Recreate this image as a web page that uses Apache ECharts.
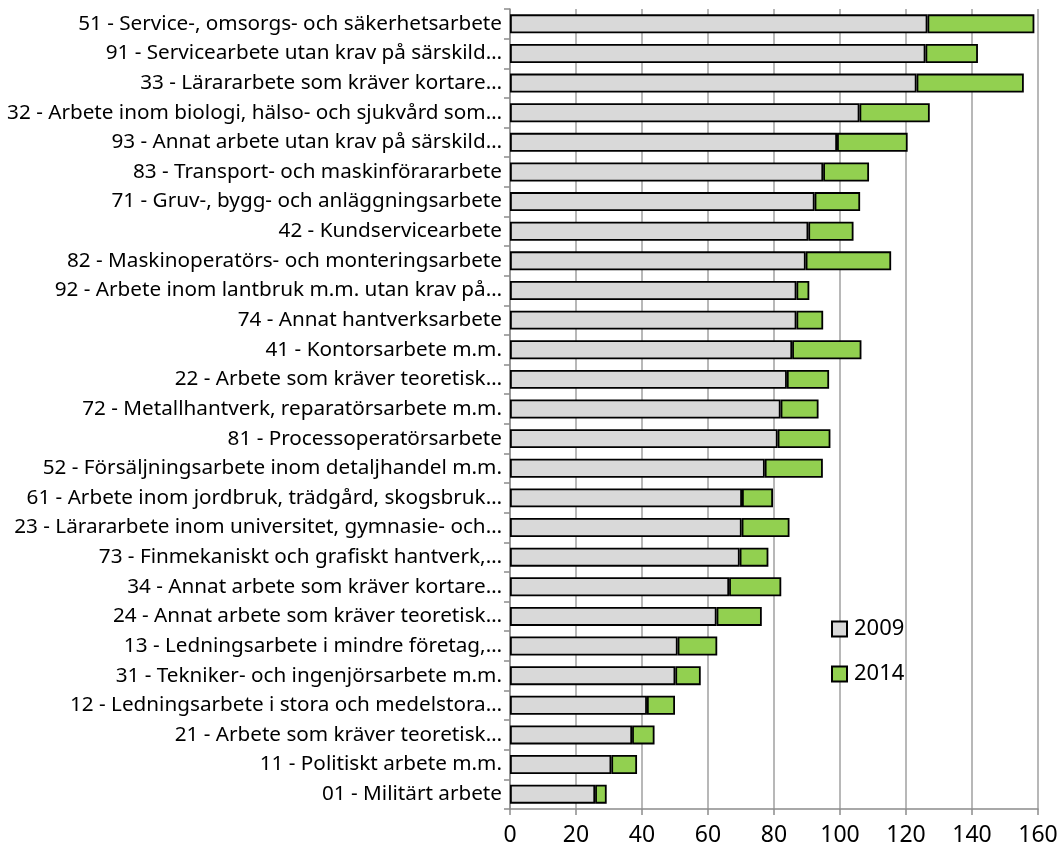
<!DOCTYPE html>
<html><head><meta charset="utf-8">
<script src="https://cdn.jsdelivr.net/npm/echarts@6/dist/echarts.min.js"></script>
<style>html,body{margin:0;padding:0;background:#fff}#c{width:1064px;height:854px}</style>
</head><body><div id="c"></div>
<script>
const categories = [
"51 - Service-, omsorgs- och säkerhetsarbete",
"91 - Servicearbete utan krav på särskild…",
"33 - Lärararbete som kräver kortare…",
"32 - Arbete inom biologi, hälso- och sjukvård som…",
"93 - Annat arbete utan krav på särskild…",
"83 - Transport- och maskinförararbete",
"71 - Gruv-, bygg- och anläggningsarbete",
"42 - Kundservicearbete",
"82 - Maskinoperatörs- och monteringsarbete",
"92 - Arbete inom lantbruk m.m. utan krav på…",
"74 - Annat hantverksarbete",
"41 - Kontorsarbete m.m.",
"22 - Arbete som kräver teoretisk…",
"72 - Metallhantverk, reparatörsarbete m.m.",
"81 - Processoperatörsarbete",
"52 - Försäljningsarbete inom detaljhandel m.m.",
"61 - Arbete inom jordbruk, trädgård, skogsbruk…",
"23 - Lärararbete inom universitet, gymnasie- och…",
"73 - Finmekaniskt och grafiskt hantverk,…",
"34 - Annat arbete som kräver kortare…",
"24 - Annat arbete som kräver teoretisk…",
"13 - Ledningsarbete i mindre företag,…",
"31 - Tekniker- och ingenjörsarbete m.m.",
"12 - Ledningsarbete i stora och medelstora…",
"21 - Arbete som kräver teoretisk…",
"11 - Politiskt arbete m.m.",
"01 - Militärt arbete"
];
const values2009 = [126.5,125.9,123.2,105.9,99.1,94.9,92.3,90.4,89.6,86.8,86.8,85.5,83.9,82.0,81.1,77.2,70.3,70.2,69.6,66.4,62.6,50.8,50.1,41.5,37.0,30.7,25.8];
const values2014 = [32.4,15.9,32.5,21.3,21.4,13.9,13.8,13.7,25.9,3.9,8.1,21.0,12.8,11.5,16.0,17.6,9.4,14.5,8.7,15.8,13.7,12.0,7.7,8.5,6.8,7.8,3.5];
const xTicks = [0,20,40,60,80,100,120,140,160];

const FONT = "Noto Sans";
const chart = echarts.init(document.getElementById('c'), null, {renderer:'canvas'});
chart.setOption({
  animation:false,
  textStyle:{fontFamily:FONT},
  grid:{left:510, right:26, top:9, bottom:45, containLabel:false, outerBoundsMode:'none'},
  legend:{
    orient:'vertical', left:826, top:613, itemGap:23, itemWidth:15, itemHeight:15,
    icon:'rect',
    textStyle:{fontSize:22, color:'#000', fontFamily:FONT, padding:[0,0,0,2]},
    data:['2009','2014']
  },
  xAxis:{
    type:'value', min:xTicks[0], max:xTicks[xTicks.length-1], interval:20,
    axisLine:{show:true, lineStyle:{color:'#8c8c8c', width:1.5}},
    axisTick:{show:true, length:6, lineStyle:{color:'#8c8c8c', width:1.5}},
    axisLabel:{fontSize:23, color:'#000', margin:15, fontFamily:FONT},
    splitLine:{show:true, lineStyle:{color:'#a0a0a0', width:1.5}}
  },
  yAxis:{
    type:'category', inverse:true, data:categories,
    axisLine:{show:true, lineStyle:{color:'#8c8c8c', width:1.5}},
    axisTick:{show:true, length:6, lineStyle:{color:'#8c8c8c', width:1.5}},
    axisLabel:{fontSize:20.7, color:'#000', margin:8, fontFamily:FONT},
    splitLine:{show:false}
  },
  series:[
    {name:'2009', type:'bar', stack:'s', data:values2009, barCategoryGap:'36%',
     itemStyle:{color:'#d9d9d9', borderColor:'#000', borderWidth:1.8}},
    {name:'2014', type:'bar', stack:'s', data:values2014, barCategoryGap:'36%',
     itemStyle:{color:'#92d050', borderColor:'#000', borderWidth:1.8}}
  ]
});
</script></body></html>
